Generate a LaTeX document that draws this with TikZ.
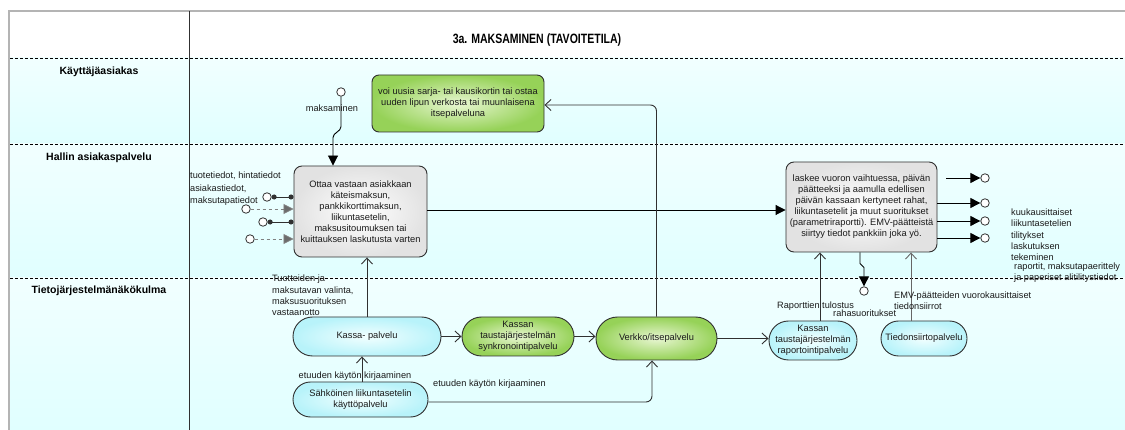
\documentclass[tikz,border=0pt]{standalone}
\usepackage{fontspec}
\setmainfont{Liberation Sans}
\usetikzlibrary{arrows.meta,calc}

\definecolor{lanebg}{HTML}{E0FFFF}
\definecolor{edge}{HTML}{303030}
\definecolor{txt}{HTML}{1A1A1A}
\definecolor{frame}{HTML}{B4B4B4}

\tikzset{
  body/.style={font=\fontsize{9.3}{11}\selectfont, text=txt, align=center, inner sep=0pt},
  lbl/.style={font=\fontsize{9.2}{11.4}\selectfont, text=txt, align=left, inner sep=0pt, anchor=west},
  lanelbl/.style={font=\fontsize{10.5}{12}\selectfont\bfseries, text=black, inner sep=0pt},
  procbox/.style={body, rectangle, draw=edge, line width=0.9pt, rounded corners=8pt,
    inner color=white, outer color={rgb,255:red,226;green,226;blue,226}},
  greenbox/.style={body, rectangle, draw=edge, line width=0.9pt,
    inner color={rgb,255:red,232;green,246;blue,210}, outer color={rgb,255:red,150;green,210;blue,88}},
  cyanbox/.style={body, rectangle, draw=edge, line width=0.9pt,
    inner color={rgb,255:red,242;green,255;blue,255}, outer color={rgb,255:red,184;green,243;blue,250}},
  endc/.style={circle, draw=edge, fill=white, line width=0.8pt, minimum size=8.5pt, inner sep=0pt},
  openarr/.style={draw=edge, line width=0.9pt, -{Straight Barb[length=6pt,width=11pt]}},
  fillarr/.style={draw=black, line width=0.9pt, -{Triangle[length=10pt,width=10pt]}},
  lanesep/.style={draw=black, line width=0.6pt, dash pattern=on 3pt off 2pt},
}

\begin{document}
\begin{tikzpicture}[x=1pt, y=-1pt]
\useasboundingbox (0,0) rectangle (1125,430);

% lane backgrounds
\fill[white] (0,0) rectangle (1125,430);
\shade[top color=white!55!lanebg, bottom color=lanebg] (10,58) rectangle (1125,144);
\shade[top color=white!55!lanebg, bottom color=lanebg] (10,144) rectangle (1125,278);
\shade[top color=white!55!lanebg, bottom color=lanebg] (10,278) rectangle (1125,430);

% frame, column divider and lane separators
\draw[frame, line width=1.6pt] (1125,11) -- (9,11) -- (9,430);
\draw[edge, line width=0.8pt] (189,11) -- (189,430);
\draw[lanesep] (10,58) -- (1125,58);
\draw[lanesep] (10,144) -- (1125,144);
\draw[lanesep] (10,278) -- (1125,278);

% heading and lane names
\node[inner sep=0pt, font=\fontsize{13.5}{15}\selectfont\bfseries] (title) at (537,40)
  {\scalebox{0.78}[1]{3a. MAKSAMINEN (TAVOITETILA)}};
\node[lanelbl] (lane1) at (99,72) {Käyttäjäasiakas};
\node[lanelbl] (lane2) at (99,158) {Hallin asiakaspalvelu};
\node[lanelbl] (lane3) at (99,291) {Tietojärjestelmänäkökulma};

% customer lane
\node[greenbox, rounded corners=7pt, minimum width=172pt, minimum height=57pt] (itse) at (458,103.5)
  {voi uusia sarja- tai kausikortin tai ostaa\\uuden lipun verkosta tai muunlaisena\\itsepalveluna};
\node[endc] (start) at (341,92) {};
\node[lbl, anchor=center] (maksl) at (332,108) {maksaminen};

% service desk lane
\node[procbox, minimum width=133pt, minimum height=91pt] (hallin) at (360.5,211.5)
  {Ottaa vastaan asiakkaan\\käteismaksun,\\pankkikorttimaksun,\\liikuntasetelin,\\maksusitoumuksen tai\\kuittauksen laskutusta varten};
\node[procbox, minimum width=151pt, minimum height=90pt] (laskee) at (861.5,207)
  {laskee vuoron vaihtuessa, päivän\\päätteeksi ja aamulla edellisen\\päivän kassaan kertyneet rahat,\\liikuntasetelit ja muut suoritukset\\(parametriraportti). EMV-päätteistä\\siirtyy tiedot pankkiin joka yö.};

% information system lane
\node[cyanbox, rounded corners=19.5pt, minimum width=148pt, minimum height=39pt] (kassa) at (367,336.5)
  {Kassa- palvelu};
\node[cyanbox, rounded corners=17.5pt, minimum width=135pt, minimum height=35pt] (sahko) at (360.5,399.5)
  {Sähköinen liikuntasetelin\\käyttöpalvelu};
\node[greenbox, rounded corners=19.5pt, minimum width=112pt, minimum height=39pt] (synk) at (518,336.5)
  {Kassan\\taustajärjestelmän\\synkronointipalvelu};
\node[greenbox, rounded corners=21.5pt, minimum width=121pt, minimum height=43pt] (verkko) at (656.5,338.5)
  {Verkko/itsepalvelu};
\node[cyanbox, rounded corners=19.5pt, minimum width=88pt, minimum height=39pt] (raport) at (813,340.5)
  {Kassan\\taustajärjestelmän\\raportointipalvelu};
\node[cyanbox, rounded corners=17.5pt, minimum width=86pt, minimum height=35pt] (tied) at (924,338.5)
  {Tiedonsiirtopalvelu};

% payment start into the service desk
\draw[fillarr] (start.south) -- ++(0,30) .. controls +(0,5) and +(0,-5) .. ($(hallin.north)+(-27.5,-28)$) -- ($(hallin.north)+(-27.5,0)$);

% inputs on the left of the service desk
\node[lbl] (inl1) at (190,176) {tuotetiedot, hintatiedot};
\node[lbl] (inl2) at (190,195) {asiakastiedot,\\maksutapatiedot};
\node[endc] (in1) at (267,197) {};
\node[endc] (in2) at (246,209) {};
\node[endc] (in3) at (263,222) {};
\node[endc] (in4) at (250,239) {};
\draw[edge, line width=0.9pt, {Circle[length=5pt]}-{Circle[length=5pt]}] (in1.east) -- (in1.east -| hallin.west);
\draw[edge, line width=0.9pt, {Circle[length=5pt]}-{Circle[length=5pt]}] (in3.east) -- (in3.east -| hallin.west);
\draw[gray, line width=0.8pt, dashed, -{Triangle[length=10pt,width=10pt,fill=gray!85!black]}] (in2.east) -- (in2.east -| hallin.west);
\draw[gray, line width=0.8pt, dashed, -{Triangle[length=10pt,width=10pt,fill=gray!85!black]}] (in4.east) -- (in4.east -| hallin.west);

% service desk to daily settlement
\draw[fillarr] ([yshift=1.5pt]hallin.east) -- ([yshift=1.5pt]hallin.east -| laskee.west);

% outputs of the daily settlement
\node[endc] (out1) at (985,178) {};
\node[endc] (out2) at (985,203) {};
\node[endc] (out3) at (985,221) {};
\node[endc] (out4) at (985,238) {};
\draw[fillarr] ([xshift=9pt]laskee.east |- out1) -- (out1.west);
\draw[fillarr] (laskee.east |- out2) -- (out2.west);
\draw[fillarr] (laskee.east |- out3) -- (out3.west);
\draw[fillarr] (laskee.east |- out4) -- (out4.west);
\node[lbl] (outl1) at (1011,224.5) {kuukausittaiset\\liikuntasetelien\\tilitykset};
\node[lbl] (outl2) at (1011,251.5) {laskutuksen\\tekeminen};
\node[lbl] (outl3) at (1014,272.5) {raportit, maksutapaerittely\\ja paperiset alitilitystiedot};
\node[endc] (out5) at (864,291) {};
\draw[fillarr] ([xshift=-1.5pt]laskee.south) -- ++(0,11) -- ++(4,4) -- (out5.north);

% information system connectors
\draw[openarr] (kassa.north) -- (kassa.north |- hallin.south);
\node[lbl] (kassal) at (272,295.5) {Tuotteiden ja\\maksutavan valinta,\\maksusuorituksen\\vastaanotto};
\draw[openarr] ([xshift=1.5pt]sahko.north) -- ([xshift=1.5pt]sahko.north |- kassa.south);
\node[lbl, anchor=center] (sahkol) at (355,376) {etuuden käytön kirjaaminen};
\draw[openarr] (kassa.east) -- (synk.west);
\draw[openarr] (synk.east) -- (synk.east -| verkko.west);
\draw[openarr, rounded corners=6pt] (verkko.north) |- ([yshift=-1.5pt]itse.east);
\draw[openarr, rounded corners=6pt] ([yshift=-2.5pt]sahko.east) -| ([xshift=-4.5pt]verkko.south);
\node[lbl] (sahkol2) at (433,384) {etuuden käytön kirjaaminen};
\draw[openarr] (verkko.east) -- (verkko.east -| raport.west);
\draw[openarr] ([xshift=7pt]raport.north) -- ([xshift=7pt]raport.north |- laskee.south);
\node[lbl] (raportl1) at (777,306) {Raporttien tulostus};
\node[lbl] (raportl2) at (833,313) {rahasuoritukset};
\draw[openarr, draw=gray!80!black] ([xshift=-13pt]tied.north) -- ([xshift=-13pt]tied.north |- laskee.south);
\node[lbl] (tiedl) at (894,300.5) {EMV-päätteiden vuorokausittaiset\\tiedonsiirrot};
\end{tikzpicture}
\end{document}
